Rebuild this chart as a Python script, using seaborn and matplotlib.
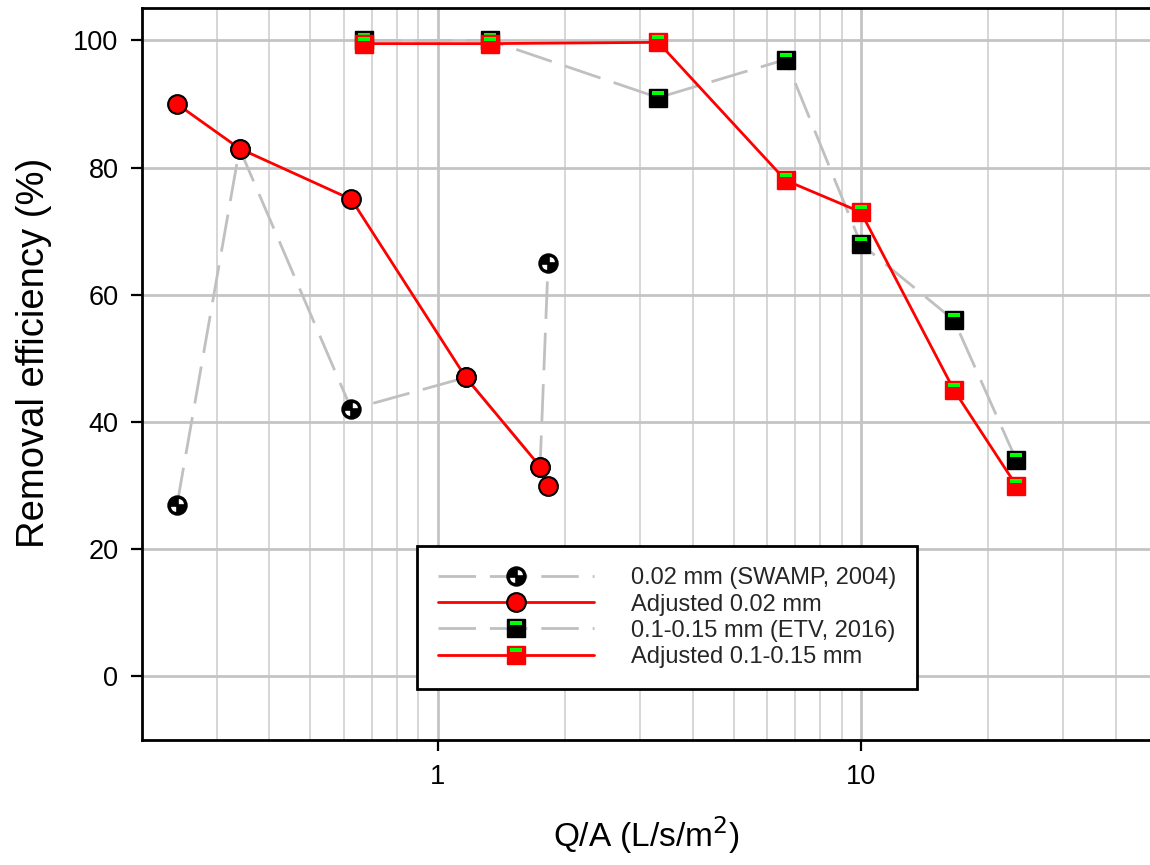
import numpy as np
import pandas as pd
import matplotlib
matplotlib.use("Agg")
import matplotlib.pyplot as plt
import seaborn as sns
from matplotlib.path import Path
from matplotlib.markers import MarkerStyle
from matplotlib.lines import Line2D
from matplotlib.legend_handler import HandlerTuple
from matplotlib.ticker import FixedLocator, FixedFormatter, NullFormatter

# ---------------- data ----------------
swamp_x = [0.242, 0.34, 0.625, 1.165, 1.745, 1.823]
swamp_y = [27, 83, 42, 47, 33, 65]
adj_swamp_y = [90, 83, 75, 47, 33, 30]
etv_x = [0.668, 1.328, 3.32, 6.64, 10.0, 16.6, 23.3]
etv_y = [100, 100, 91, 97, 68, 56, 34]
adj_etv_y = [99.5, 99.5, 99.7, 78, 73, 45, 30]
series_labels = ["0.02 mm (SWAMP, 2004)", "Adjusted 0.02 mm",
                 "0.1-0.15 mm (ETV, 2016)", "Adjusted 0.1-0.15 mm"]
y_ticks = [0, 20, 40, 60, 80, 100]
x_major = [1, 10]
x_major_labels = ["1", "10"]
x_minor = [0.3, 0.4, 0.5, 0.6, 0.7, 0.8, 0.9,
           2, 3, 4, 5, 6, 7, 8, 9, 20, 30, 40]

# ---------------- style ----------------
sns.set_style("white")
plt.rcParams["font.family"] = ["Liberation Sans", "DejaVu Sans"]
plt.rcParams["lines.scale_dashes"] = False

GRAY = "#c0c0c0"
RED = "#ff0000"
GREEN = "#00ff00"
DASH = (0, (27, 10))

# custom overlay markers
def quarter(cx, cy, r, t0, t1, n=12):
    th = np.linspace(np.radians(t0), np.radians(t1), n)
    pts = [(cx, cy)] + [(cx + r * np.cos(t), cy + r * np.sin(t)) for t in th]
    return pts

g, r = 0.07, 0.27
ur = quarter(g, g, r, 0, 90)
ll = quarter(-g, -g, r, 180, 270)
verts = [(-0.5, -0.5), (0.5, 0.5)]
codes = [Path.MOVETO, Path.MOVETO]
for poly in (ur, ll):
    verts += poly + [poly[0]]
    codes += [Path.MOVETO] + [Path.LINETO] * (len(poly) - 1) + [Path.CLOSEPOLY]
wedge_marker = MarkerStyle(Path(verts, codes))

sv = [(-0.5, -0.5), (0.5, 0.5),
      (-0.33, 0.17), (0.33, 0.17), (0.33, 0.40), (-0.33, 0.40), (-0.33, 0.17)]
sc = [Path.MOVETO, Path.MOVETO, Path.MOVETO, Path.LINETO, Path.LINETO,
      Path.LINETO, Path.CLOSEPOLY]
stripe_marker = MarkerStyle(Path(sv, sc))

CMS = 13.5  # circle marker size
SMS = 12.5  # square marker size

fig = plt.figure(figsize=(11.5, 8.65), dpi=100)
ax = fig.add_axes([142 / 1150, 125 / 865, (1150 - 142) / 1150, (740 - 8) / 865])

df_s = pd.DataFrame({"x": swamp_x, "y": swamp_y, "adj": adj_swamp_y})
df_e = pd.DataFrame({"x": etv_x, "y": etv_y, "adj": adj_etv_y})

# SWAMP
sns.lineplot(data=df_s, x="x", y="y", ax=ax, color=GRAY, lw=2, linestyle=DASH,
             marker="o", markersize=CMS, markerfacecolor="black",
             markeredgecolor="black", markeredgewidth=1.2, zorder=3)
sns.lineplot(data=df_s, x="x", y="y", ax=ax, linestyle="", marker=wedge_marker,
             markersize=CMS, markerfacecolor="white", markeredgewidth=0, zorder=3.1)
# adjusted SWAMP
sns.lineplot(data=df_s, x="x", y="adj", ax=ax, color=RED, lw=2,
             marker="o", markersize=CMS, markerfacecolor=RED,
             markeredgecolor="black", markeredgewidth=1.5, zorder=4)
# ETV
sns.lineplot(data=df_e, x="x", y="y", ax=ax, color=GRAY, lw=2, linestyle=DASH,
             marker="s", markersize=SMS, markerfacecolor="black",
             markeredgecolor="black", markeredgewidth=1, zorder=5)
sns.lineplot(data=df_e, x="x", y="y", ax=ax, linestyle="", marker=stripe_marker,
             markersize=SMS, markerfacecolor=GREEN, markeredgewidth=0, zorder=5.1)
# adjusted ETV
sns.lineplot(data=df_e, x="x", y="adj", ax=ax, color=RED, lw=2,
             marker="s", markersize=SMS, markerfacecolor=RED,
             markeredgecolor=RED, markeredgewidth=1, zorder=6)
sns.lineplot(data=df_e, x="x", y="adj", ax=ax, linestyle="", marker=stripe_marker,
             markersize=SMS, markerfacecolor=GREEN, markeredgewidth=0, zorder=6.1)

# axes
ax.set_xscale("log")
ax.set_xlim(0.2, 10 ** ((1150 - 438) / 423))
ax.set_ylim(-10, 105.1)
ax.xaxis.set_major_locator(FixedLocator(x_major))
ax.xaxis.set_major_formatter(FixedFormatter(x_major_labels))
ax.xaxis.set_minor_locator(FixedLocator(x_minor))
ax.xaxis.set_minor_formatter(NullFormatter())
ax.set_yticks(y_ticks)
ax.set_axisbelow(True)
ax.grid(True, which="major", color="#c4c4c4", lw=2)
ax.grid(True, which="minor", axis="x", color="#d6d6d6", lw=1.4)
ax.tick_params(which="major", direction="out", length=8, width=1.6,
               color="black", labelsize=19.5, pad=9, labelcolor="black")
ax.tick_params(which="minor", length=0)
ax.tick_params(axis="x", bottom=True)
ax.tick_params(axis="y", left=True)
for s in ("left", "bottom", "top"):
    ax.spines[s].set_visible(True)
    ax.spines[s].set_color("black")
    ax.spines[s].set_linewidth(2)
ax.spines["right"].set_visible(False)

ax.set_xlabel("Q/A (L/s/m$^2$)", fontsize=24, labelpad=18, color="black")
ax.set_ylabel("Removal efficiency (%)", fontsize=27.5, labelpad=15, color="black")
ax.yaxis.label.set_y(0.529)

# legend
h1 = (Line2D([], [], color=GRAY, lw=2, linestyle=DASH, marker="o", ms=CMS,
             mfc="black", mec="black", mew=1.2),
      Line2D([], [], linestyle="", marker=wedge_marker, ms=CMS, mfc="white", mew=0))
h2 = (Line2D([], [], color=RED, lw=2, marker="o", ms=CMS, mfc=RED, mec="black", mew=1.5),)
h3 = (Line2D([], [], color=GRAY, lw=2, linestyle=DASH, marker="s", ms=SMS,
             mfc="black", mec="black", mew=1),
      Line2D([], [], linestyle="", marker=stripe_marker, ms=SMS, mfc=GREEN, mew=0))
h4 = (Line2D([], [], color=RED, lw=2, marker="s", ms=SMS, mfc=RED, mec=RED, mew=1),
      Line2D([], [], linestyle="", marker=stripe_marker, ms=SMS, mfc=GREEN, mew=0))
leg = ax.legend([h1, h2, h3, h4], series_labels,
                handler_map={tuple: HandlerTuple(ndivide=1)},
                loc="upper left", bbox_to_anchor=(417 / 1150, 1 - 546 / 865),
                bbox_transform=fig.transFigure, borderaxespad=0,
                fontsize=17, numpoints=1, handlelength=6.6, handletextpad=1.55,
                labelspacing=0.18, borderpad=0.9, fancybox=False, framealpha=1,
                edgecolor="black")
leg.get_frame().set_linewidth(2)
leg.set_zorder(10)

fig.savefig("out.png", dpi=100)
